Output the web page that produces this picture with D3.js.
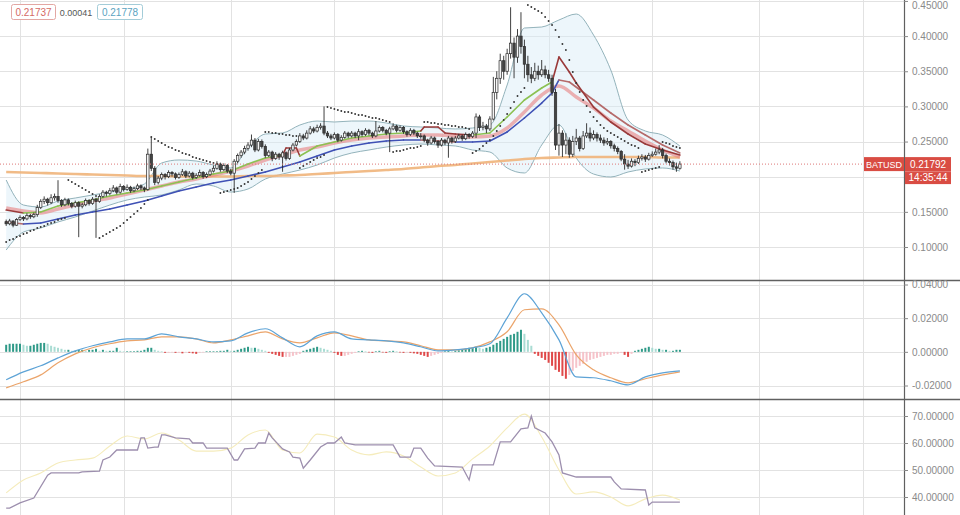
<!DOCTYPE html>
<html><head><meta charset="utf-8">
<script src="https://cdnjs.cloudflare.com/ajax/libs/d3/7.8.5/d3.min.js"></script>
<style>
html,body{margin:0;padding:0;background:#fff;}
svg{display:block;font-family:"Liberation Sans",Arial,sans-serif;}
</style></head><body>
<svg id="chart" width="960" height="515"></svg>
<script>
// ---------- DATA ----------
const symbol = "BATUSD";
const lastPrice = 0.21792;
const countdown = "14:35:44";
const legendVals = ["0.21737", "0.00041", "0.21778"];
const startDate = Date.UTC(2020, 2, 28);

const opens = [
.136,.133,.137,.131,.139,.142,.140,.145,.143,.146,
.156,.165,.168,.163,.170,.172,.166,.160,.167,.162,
.158,.163,.158,.160,.166,.162,.168,.165,.172,.178,
.176,.180,.184,.178,.186,.182,.185,.180,.183,.187,
.184,.182,.232,.212,.192,.198,.203,.200,.206,.204,
.199,.203,.207,.201,.205,.199,.202,.206,.200,.203,
.208,.212,.218,.210,.216,.208,.205,.222,.230,.235,
.240,.245,.252,.238,.250,.243,.230,.235,.226,.232,
.228,.234,.226,.238,.245,.250,.258,.255,.262,.268,
.265,.270,.272,.262,.258,.255,.260,.252,.256,.262,
.258,.262,.258,.264,.260,.266,.262,.258,.265,.270,
.266,.262,.268,.272,.266,.270,.264,.260,.266,.262,
.258,.258,.252,.248,.255,.250,.245,.252,.248,.255,
.250,.255,.258,.254,.260,.257,.262,.285,.270,.272,
.268,.282,.320,.340,.365,.350,.375,.390,.370,.400,
.385,.360,.345,.340,.350,.345,.352,.345,.340,.320,
.245,.262,.245,.252,.232,.250,.255,.240,.258,.262,
.255,.260,.255,.252,.248,.250,.244,.240,.236,.225,
.218,.215,.222,.220,.226,.228,.225,.230,.232,.235,
.238,.230,.222,.220,.214,.212];
const highs = [
.139,.140,.138,.141,.145,.144,.148,.147,.149,.160,
.168,.172,.170,.175,.176,.195,.168,.170,.169,.164,
.166,.165,.163,.169,.168,.171,.170,.175,.181,.180,
.184,.188,.186,.190,.188,.189,.187,.186,.190,.189,
.186,.240,.256,.215,.201,.206,.205,.209,.208,.206,
.206,.211,.209,.208,.207,.205,.210,.208,.206,.211,
.216,.222,.220,.219,.218,.211,.225,.233,.238,.244,
.249,.260,.255,.254,.253,.246,.238,.237,.235,.234,
.237,.236,.241,.248,.253,.262,.261,.266,.272,.271,
.274,.276,.300,.265,.261,.263,.262,.259,.265,.264,
.265,.264,.268,.266,.269,.268,.264,.279,.273,.272,
.268,.271,.276,.274,.273,.272,.266,.269,.268,.264,
.262,.260,.254,.258,.257,.252,.255,.254,.258,.257,
.258,.261,.260,.263,.262,.265,.290,.288,.278,.275,
.286,.342,.350,.375,.372,.382,.441,.398,.410,.434,
.395,.372,.356,.362,.358,.366,.358,.352,.345,.325,
.275,.266,.262,.256,.258,.268,.258,.265,.276,.270,
.266,.263,.260,.256,.255,.252,.247,.243,.238,.232,
.224,.226,.225,.230,.232,.231,.234,.236,.240,.245,
.241,.233,.226,.223,.220,.222];
const lows = [
.130,.131,.128,.130,.137,.137,.138,.140,.141,.143,
.154,.161,.159,.161,.166,.163,.157,.158,.159,.155,
.156,.114,.155,.158,.159,.160,.113,.163,.170,.172,
.174,.178,.175,.176,.179,.180,.177,.178,.181,.181,
.178,.180,.208,.188,.189,.195,.196,.198,.200,.196,
.197,.201,.198,.199,.196,.197,.200,.197,.198,.201,
.206,.210,.207,.208,.205,.202,.177,.219,.227,.232,
.237,.242,.235,.236,.240,.227,.228,.222,.224,.224,
.207,.223,.224,.236,.243,.248,.252,.253,.260,.262,
.263,.267,.259,.255,.252,.253,.249,.250,.254,.255,
.256,.255,.252,.257,.258,.259,.255,.256,.263,.263,
.259,.235,.266,.263,.264,.261,.257,.258,.259,.255,
.254,.249,.244,.246,.247,.241,.243,.245,.227,.247,
.248,.253,.251,.252,.254,.255,.255,.265,.266,.262,
.265,.280,.310,.332,.338,.345,.368,.340,.362,.375,
.340,.335,.333,.336,.338,.342,.340,.335,.315,.238,
.230,.228,.232,.227,.228,.245,.236,.238,.255,.250,
.252,.250,.248,.244,.245,.240,.236,.232,.222,.210,
.211,.213,.215,.218,.223,.221,.223,.228,.230,.232,
.226,.219,.216,.210,.207,.210];
const closes = [
.133,.137,.131,.139,.142,.140,.145,.143,.146,.156,
.165,.168,.163,.170,.172,.166,.160,.167,.162,.158,
.163,.158,.160,.166,.162,.168,.165,.172,.178,.176,
.180,.184,.178,.186,.182,.185,.180,.183,.187,.184,
.182,.232,.212,.192,.198,.203,.200,.206,.204,.199,
.203,.207,.201,.205,.199,.202,.206,.200,.203,.208,
.212,.218,.210,.216,.208,.205,.222,.230,.235,.240,
.245,.252,.238,.250,.243,.230,.235,.226,.232,.228,
.234,.226,.238,.245,.250,.258,.255,.262,.268,.265,
.270,.272,.262,.258,.255,.260,.252,.256,.262,.258,
.262,.258,.264,.260,.266,.262,.258,.265,.270,.266,
.262,.268,.272,.266,.270,.264,.260,.266,.262,.258,
.258,.252,.248,.255,.250,.245,.252,.248,.255,.250,
.255,.258,.254,.260,.257,.262,.285,.270,.272,.268,
.282,.320,.340,.365,.350,.375,.390,.370,.400,.385,
.360,.345,.340,.350,.345,.352,.345,.340,.320,.245,
.262,.245,.252,.232,.250,.255,.240,.258,.262,.255,
.260,.255,.252,.248,.250,.244,.240,.236,.225,.218,
.215,.222,.220,.226,.228,.225,.230,.232,.235,.238,
.230,.222,.220,.214,.212,.21792];

const sar = [
0.1071,0.1100,0.1114,0.1142,0.1156,0.1185,0.1199,0.1228,0.1242,0.1270,0.1284,0.1299,0.1327,0.1341,0.1356,0.1384,0.1398,0.1413,
0.1953,0.1925,0.1896,0.1868,0.1839,0.1811,0.1782,0.1754,0.1725,
0.1128,0.1156,0.1185,0.1213,0.1242,0.1270,0.1299,0.1341,0.1384,0.1427,0.1469,0.1512,0.1555,0.1612,0.1669,
0.2565,0.2536,0.2508,0.2479,0.2451,0.2422,0.2408,0.2380,0.2366,0.2337,0.2323,0.2309,0.2280,0.2266,0.2252,0.2238,0.2223,0.2209,0.2195,0.2181,
0.1768,0.1782,0.1796,0.1811,0.1825,0.1839,0.1868,0.1896,0.1925,0.1967,0.2010,0.2053,0.2095,
0.2636,0.2636,0.2622,0.2622,0.2607,0.2607,0.2593,0.2593,0.2579,0.2579,
0.2124,0.2152,0.2181,0.2209,0.2238,0.2266,0.2280,0.2309,
0.2991,0.2977,0.2962,0.2949,0.2935,0.2920,0.2920,0.2906,0.2892,0.2878,0.2878,0.2863,0.2849,0.2835,0.2835,0.2821,0.2806,0.2792,0.2778,
0.2351,0.2366,0.2366,0.2380,0.2394,0.2408,0.2408,0.2422,0.2437,
0.2778,0.2778,0.2764,0.2764,0.2750,0.2750,0.2735,0.2735,0.2721,0.2721,0.2707,0.2707,0.2693,0.2679,
0.2337,0.2366,0.2394,0.2437,0.2479,0.2522,0.2579,0.2650,0.2721,0.2807,0.2892,0.2977,0.3063,0.3148,0.3205,0.3262,
0.4442,0.4414,0.4386,0.4357,0.4329,0.4272,0.4215,0.4158,0.4087,0.3987,0.3888,0.3802,0.3660,0.3489,0.3333,0.3205,0.3091,0.3006,0.2921,0.2849,0.2792,0.2735,0.2693,0.2650,0.2622,0.2593,0.2565,0.2536,0.2508,0.2479,0.2451,0.2437,0.2408,
0.2067,0.2081,0.2095,0.2110,0.2124,0.2138,
0.2494,0.2479,0.2465,0.2437,0.2422,0.2408];

const macdHist = [
0.0042,0.0048,0.0048,0.0048,0.0048,0.0042,0.0036,0.0036,0.0042,0.0048,
0.0053,0.0053,0.0048,0.0036,0.003,0.0024,0.0018,0.0012,0.0012,0.0006,
0.0006,0.0012,0.0012,0.0006,0.0012,0.0012,0.0018,0.0006,0.0012,0.0006,
0.0006,0.0006,0.0024,0.0006,0.0003,0.0003,0.0003,0.0003,0.0006,0.0006,
0.0012,0.0024,0.0024,0.0012,0.0006,0.0003,-0.0006,-0.0006,-0.0003,-0.0006,
-0.0006,-0.0009,-0.0003,-0.0006,-0.0009,-0.0012,-0.0006,-0.0003,0.0003,0.0003,
0.0003,0.0003,0.0006,0.0006,0.0012,0.0006,0.0006,0.0012,0.0018,0.0024,
0.003,0.0024,0.0024,0.0018,0.0012,0.0006,-0.0006,-0.0012,-0.0018,-0.0024,
-0.003,-0.003,-0.003,-0.0024,-0.0018,-0.0012,0.0006,0.0012,0.0018,0.0024,
0.003,0.0024,0.0018,0.0012,0.0006,-0.0006,-0.0018,-0.0024,-0.0024,-0.0018,
-0.0012,-0.0006,0.0003,0.0006,0.0003,-0.0003,-0.0006,0.0003,0.0006,-0.0003,
-0.0006,0.0003,0.0006,0.0003,-0.0003,-0.0006,-0.0003,-0.0006,-0.0009,-0.0012,
-0.0018,-0.0024,-0.003,-0.0024,-0.0018,-0.0012,-0.0006,0.0003,0.0006,0.0003,
0.0006,0.0009,0.0012,0.0018,0.0024,0.0024,0.003,0.0024,0.0018,0.0024,
0.003,0.0042,0.0053,0.0065,0.0077,0.0089,0.0101,0.0107,0.0119,0.0131,
0.0107,0.0071,0.0036,-0.0012,-0.0024,-0.0036,-0.0048,-0.0065,-0.0083,-0.0107,
-0.0119,-0.0143,-0.016,-0.0137,-0.0113,-0.0095,-0.0083,-0.0071,-0.0059,-0.0048,
-0.0042,-0.0036,-0.003,-0.0024,-0.0018,-0.0018,-0.0012,-0.0012,-0.0006,-0.0018,
-0.003,-0.0012,0.0006,0.0012,0.0018,0.0024,0.003,0.0024,0.0018,0.0018,
0.0012,0.0012,0.0006,0.0006,0.0012,0.0012];

// indicator samples, one every 5 candles
const sampleIdx = d3.range(0, 196, 5);
const maLong = [0.2067,0.2060,0.2053,0.2046,0.2038,0.2031,0.2024,0.2017,0.2010,0.2010,0.2003,0.2003,0.2003,0.2003,0.2010,0.2010,0.2017,0.2024,0.2038,0.2053,0.2067,0.2081,0.2095,0.2110,0.2131,0.2152,0.2166,0.2188,0.2209,0.2230,0.2252,0.2266,0.2273,0.2280,0.2280,0.2280,0.2280,0.2280,0.2273,0.2273];
const bbUpper = [0.1953,0.1597,0.1569,0.1654,0.1697,0.1740,0.1782,0.1825,0.1896,0.2195,0.2238,0.2223,0.2166,0.2124,0.2408,0.2607,0.2622,0.2735,0.2792,0.2778,0.2792,0.2792,0.2764,0.2721,0.2707,0.2693,0.2679,0.2693,0.2735,0.3304,0.4115,0.4129,0.4229,0.4314,0.4016,0.3518,0.2807,0.2650,0.2593,0.2437];
const bbLower = [0.0957,0.1213,0.1270,0.1356,0.1427,0.1512,0.1597,0.1669,0.1711,0.1740,0.1811,0.1896,0.1868,0.1782,0.1825,0.1967,0.2038,0.2095,0.2166,0.2266,0.2337,0.2380,0.2422,0.2451,0.2465,0.2451,0.2437,0.2380,0.2351,0.2124,0.2053,0.2451,0.2735,0.2266,0.2038,0.1996,0.2067,0.2110,0.2124,0.2081];
const maPink = [0.1555,0.1512,0.1484,0.1541,0.1597,0.1654,0.1697,0.1754,0.1811,0.1868,0.1925,0.1967,0.2024,0.2081,0.2152,0.2238,0.2309,0.2380,0.2422,0.2479,0.2522,0.2550,0.2565,0.2579,0.2593,0.2593,0.2579,0.2565,0.2579,0.2693,0.2920,0.3162,0.3290,0.3134,0.2977,0.2792,0.2650,0.2508,0.2380,0.2280];
const macdLine = [-0.0166,-0.0119,-0.0083,-0.0036,0.0006,0.0036,0.0059,0.0077,0.0077,0.0107,0.0089,0.0077,0.0059,0.0065,0.0113,0.0137,0.0083,0.003,0.0095,0.0119,0.0077,0.0071,0.0065,0.0053,0.003,0.0006,0.0012,0.0024,0.0048,0.0202,0.0345,0.0232,0.0071,-0.0149,-0.0154,-0.0172,-0.0196,-0.0149,-0.0125,-0.0113];
const signalLine = [-0.0214,-0.0178,-0.0137,-0.0065,-0.0012,0.0024,0.0048,0.0065,0.0071,0.0089,0.0089,0.0077,0.0053,0.0071,0.0095,0.0119,0.0077,0.0053,0.0083,0.0113,0.0095,0.0071,0.0065,0.0059,0.0036,0.0012,0.0012,0.0024,0.0059,0.0119,0.025,0.0255,0.016,-0.0018,-0.0107,-0.0154,-0.0184,-0.016,-0.0137,-0.0119];
const rsiMa = [41.5,46.3,48.9,52.6,53.7,54.4,58.9,62.6,61.5,63.7,61.1,57.0,57.0,58.1,63.0,64.8,57.4,56.3,63.3,62.2,57.4,55.6,56.7,55.2,51.1,47.8,48.9,54.1,58.9,65.6,70.7,62.2,50.0,41.1,41.9,40.0,36.7,39.3,40.7,38.9];

// fast moving average; trend flag per point (segment ending there): 1 green, -1 maroon
const fastIdx = [0,5,10,15,20,25,30,35,40,45,50,55,60,65,70,75,80,81,84,85,88,90,95,100,105,110,115,120,121,125,127,130,135,140,145,150,155,158,160,163,165,170,175,180,185,190,195];
const fastVal = [0.1526,0.1484,0.1498,0.1583,0.1626,0.1669,0.1725,0.1768,0.1811,0.1868,0.1925,0.1982,0.2038,0.2081,0.2181,0.2266,0.2309,0.2408,0.2408,0.2294,0.2380,0.2437,0.2494,0.2550,0.2579,0.2607,0.2622,0.2650,0.2707,0.2707,0.2622,0.2607,0.2593,0.2622,0.2849,0.3091,0.3262,0.3347,0.3703,0.3489,0.3333,0.2991,0.2778,0.2607,0.2465,0.2380,0.2309];
const fastTrend = [0,-1,1,1,1,1,1,1,1,1,1,1,1,1,1,1,1,-1,-1,-1,1,1,1,1,1,1,1,1,-1,-1,-1,-1,-1,1,1,1,1,1,-1,-1,-1,-1,-1,-1,-1,-1,-1];
// slower moving average (blue rising / red-grey falling)
const slowIdx = [0,5,10,15,20,25,30,35,40,45,50,55,60,65,70,75,80,85,90,95,100,105,110,115,120,125,130,135,140,145,150,155,158,160,163,170,175,180,185,190,195];
const slowVal = [0.1356,0.1327,0.1341,0.1398,0.1455,0.1498,0.1541,0.1597,0.1654,0.1725,0.1797,0.1853,0.1910,0.1953,0.2010,0.2067,0.2138,0.2209,0.2294,0.2380,0.2437,0.2479,0.2508,0.2522,0.2522,0.2508,0.2494,0.2494,0.2508,0.2636,0.2835,0.3048,0.3191,0.3376,0.3347,0.3091,0.2906,0.2735,0.2593,0.2451,0.2337];
// RSI
const rsiIdx = [0,1,4,8,12,13,21,22,27,28,30,32,38,39,40,41,43,44,45,46,49,53,54,57,58,64,66,67,69,72,73,75,76,77,80,82,83,85,86,88,91,93,95,97,98,101,112,114,117,118,120,122,124,132,134,135,141,143,146,149,151,152,153,156,158,160,161,165,175,176,178,185,186,187,195];
const rsiVal = [35.9,35.9,37.8,39.6,48.1,48.9,48.9,49.3,49.6,53.7,54.8,57.4,57.4,61.9,61.9,58.1,58.5,58.5,63.0,63.0,61.9,61.5,60.0,60.0,58.1,58.1,53.7,53.7,57.8,58.1,60.0,60.0,63.7,61.9,57.8,56.7,54.8,54.4,50.7,53.7,58.5,60.0,60.0,62.2,60.0,59.3,59.3,54.8,54.8,58.1,58.1,54.4,51.5,51.1,46.3,51.9,51.9,60.4,60.4,65.2,65.6,70.0,65.6,63.7,60.4,55.6,48.9,47.4,47.4,45.6,43.0,42.6,37.0,38.1,38.1];

const priceTicks = [0.10, 0.15, 0.20, 0.25, 0.30, 0.35, 0.40, 0.45];
const priceLabelTicks = [0.10, 0.15, 0.25, 0.30, 0.35, 0.40, 0.45]; // 0.20 hidden under the price label
const macdTicks = [-0.02, 0.00, 0.02, 0.04];
const rsiTicks = [40, 50, 60, 70];

// ---------- LAYOUT ----------
const W = 960, H = 515, axisX = 904;
const svg = d3.select("#chart");
const x = d3.scaleUtc()
  .domain([new Date(Date.UTC(2020, 3, 1)), new Date(Date.UTC(2020, 11, 1))])
  .range([20, 863]);
const dateOf = i => new Date(startDate + i * 864e5);
const xi = i => x(dateOf(i));
const yP = d3.scaleLinear().domain([0.10, 0.45]).range([247, 0.95]);
const yM = d3.scaleLinear().domain([-0.02, 0.04]).range([385.5, 284.5]);
const yR = d3.scaleLinear().domain([40, 70]).range([497, 416]);

const defs = svg.append("defs");
function clip(id, y0, h) {
  defs.append("clipPath").attr("id", id).append("rect").attr("x", 0).attr("y", y0).attr("width", axisX).attr("height", h);
}
clip("cMain", 0, 280); clip("cMacd", 281, 118); clip("cRsi", 400, 115);

// grid
const grid = svg.append("g");
const months = d3.utcMonths(new Date(Date.UTC(2020, 2, 1)), new Date(Date.UTC(2020, 11, 2)));
grid.selectAll("line.v").data(months).join("line")
  .attr("x1", d => Math.round(x(d)) + 0.5).attr("x2", d => Math.round(x(d)) + 0.5)
  .attr("y1", 0).attr("y2", H).attr("stroke", "#e2e2e2");
function hgrid(ticks, sc) {
  grid.selectAll(null).data(ticks).join("line")
    .attr("x1", 0).attr("x2", axisX).attr("y1", d => Math.round(sc(d)) + 0.5).attr("y2", d => Math.round(sc(d)) + 0.5)
    .attr("stroke", "#e2e2e2");
}
hgrid(priceTicks, yP); hgrid(macdTicks, yM); hgrid(rsiTicks, yR);

// ---------- MAIN PANE ----------
const main = svg.append("g").attr("clip-path", "url(#cMain)");
const sIdx = sampleIdx;
const bbArea = d3.area().curve(d3.curveMonotoneX)
  .x((d, k) => xi(sIdx[k])).y0((d, k) => yP(bbLower[k])).y1((d, k) => yP(bbUpper[k]));
main.append("path").datum(bbUpper).attr("d", bbArea).attr("fill", "#d6ebf7").attr("opacity", 0.45);
const sampleLine = arr => d3.line().curve(d3.curveMonotoneX).x((d, k) => xi(sIdx[k])).y(d => yP(d))(arr);
main.append("path").attr("d", sampleLine(bbUpper)).attr("fill", "none").attr("stroke", "#93b3bb").attr("stroke-width", 1);
main.append("path").attr("d", sampleLine(bbLower)).attr("fill", "none").attr("stroke", "#93b3bb").attr("stroke-width", 1);
main.append("path").attr("d", sampleLine(maLong)).attr("fill", "none").attr("stroke", "#f0b47a").attr("stroke-width", 2.6).attr("opacity", 0.9);
main.append("path").attr("d", sampleLine(maPink)).attr("fill", "none").attr("stroke", "#e88080").attr("stroke-width", 3.5).attr("opacity", 0.6);

function colored(g, idx, vals, sc, colorOf, w) {
  for (let k = 1; k < idx.length; k++) {
    g.append("line")
      .attr("x1", xi(idx[k - 1])).attr("y1", sc(vals[k - 1]))
      .attr("x2", xi(idx[k])).attr("y2", sc(vals[k]))
      .attr("stroke", colorOf(k))
      .attr("stroke-width", w).attr("stroke-linecap", "round");
  }
}
colored(main, slowIdx, slowVal, yP, k => slowVal[k] >= slowVal[k - 1] ? "#3f51b5" : "#b56a6a", 1.6);
colored(main, fastIdx, fastVal, yP, k => fastTrend[k] > 0 ? "#8cc152" : "#9a3a3a", 1.6);

// candles
const candles = d3.range(closes.length);
main.append("g").selectAll("line").data(candles).join("line")
  .attr("x1", i => xi(i)).attr("x2", i => xi(i))
  .attr("y1", i => yP(highs[i])).attr("y2", i => yP(lows[i]))
  .attr("stroke", "#2b2b2b").attr("stroke-width", 0.9);
main.append("g").selectAll("rect").data(candles).join("rect")
  .attr("x", i => xi(i) - 1.2).attr("width", 2.4)
  .attr("y", i => yP(Math.max(opens[i], closes[i])))
  .attr("height", i => Math.max(0.8, Math.abs(yP(opens[i]) - yP(closes[i]))))
  .attr("fill", i => closes[i] >= opens[i] ? "#f4f4f4" : "#444")
  .attr("stroke", "#2b2b2b").attr("stroke-width", 0.7);

// parabolic SAR
main.append("g").selectAll("circle").data(candles.filter(i => sar[i] != null)).join("circle")
  .attr("cx", i => xi(i)).attr("cy", i => yP(sar[i])).attr("r", 0.95).attr("fill", "#333");

// last price line
svg.append("line").attr("x1", 0).attr("x2", axisX).attr("y1", yP(lastPrice)).attr("y2", yP(lastPrice))
  .attr("stroke", "#d77").attr("stroke-dasharray", "1,2").attr("stroke-width", 1);

// ---------- MACD PANE ----------
const mg = svg.append("g").attr("clip-path", "url(#cMacd)");
mg.append("g").selectAll("rect").data(candles).join("rect")
  .attr("x", i => xi(i) - 1).attr("width", 2)
  .attr("y", i => Math.min(yM(0), yM(macdHist[i])))
  .attr("height", i => Math.max(0.6, Math.abs(yM(macdHist[i]) - yM(0))))
  .attr("fill", i => {
    const v = macdHist[i], p = i > 0 ? macdHist[i - 1] : v;
    if (v >= 0) return v >= p ? "#2f9a88" : "#a9dcd3";
    return v < p ? "#e04848" : "#f6c3ca";
  });
const mLine = arr => d3.line().curve(d3.curveMonotoneX).x((d, k) => xi(sIdx[k])).y(d => yM(d))(arr);
mg.append("path").attr("d", mLine(signalLine)).attr("fill", "none").attr("stroke", "#eba46a").attr("stroke-width", 1.2);
mg.append("path").attr("d", mLine(macdLine)).attr("fill", "none").attr("stroke", "#5da3d6").attr("stroke-width", 1.2);

// ---------- RSI PANE ----------
const rg = svg.append("g").attr("clip-path", "url(#cRsi)");
rg.append("path").attr("d", d3.line().curve(d3.curveMonotoneX).x((d, k) => xi(sIdx[k])).y(d => yR(d))(rsiMa))
  .attr("fill", "none").attr("stroke", "#f5ecbc").attr("stroke-width", 1.1);
rg.append("path").attr("d", d3.line().x((d, k) => xi(rsiIdx[k])).y(d => yR(d))(rsiVal))
  .attr("fill", "none").attr("stroke", "#9d8fae").attr("stroke-width", 1.3);

// ---------- SEPARATORS & AXES ----------
svg.append("line").attr("x1", 0).attr("x2", W).attr("y1", 280.5).attr("y2", 280.5).attr("stroke", "#606060").attr("stroke-width", 1.5);
svg.append("line").attr("x1", 0).attr("x2", W).attr("y1", 399.5).attr("y2", 399.5).attr("stroke", "#606060").attr("stroke-width", 1.5);
svg.append("line").attr("x1", axisX + 0.5).attr("x2", axisX + 0.5).attr("y1", 0).attr("y2", H).attr("stroke", "#606060").attr("stroke-width", 1.2);

function axis(sc, ticks) {
  const g = svg.append("g").attr("transform", `translate(${axisX},0)`)
    .call(d3.axisRight(sc).tickValues(ticks).tickSize(4).tickPadding(4).tickFormat(d => d.toFixed(5)));
  g.select(".domain").remove();
  g.selectAll("line").attr("stroke", "#888");
  g.selectAll("text").attr("fill", "#8a8a8a").attr("font-size", 10);
  return g;
}
const pAxis = axis(yP, priceLabelTicks); axis(yM, macdTicks); axis(yR, rsiTicks);
// keep the top label inside the picture
pAxis.selectAll(".tick").filter(d => d === 0.45).select("text").attr("y", 4);

// price label
const ly = yP(lastPrice);
const lab = svg.append("g");
lab.append("rect").attr("x", 864).attr("y", ly - 7).attr("width", 40).attr("height", 14).attr("fill", "#d94c43");
lab.append("text").attr("x", 884).attr("y", ly + 3.5).attr("text-anchor", "middle").attr("fill", "#fff").attr("font-size", 9).text(symbol);
lab.append("rect").attr("x", 905).attr("y", ly - 7).attr("width", 46).attr("height", 27).attr("fill", "#d94c43");
lab.append("line").attr("x1", 905).attr("x2", 951).attr("y1", ly + 7.5).attr("y2", ly + 7.5).attr("stroke", "#e98a84").attr("stroke-width", 0.8);
lab.append("text").attr("x", 928).attr("y", ly + 3.5).attr("text-anchor", "middle").attr("fill", "#fff").attr("font-size", 10).text(lastPrice.toFixed(5));
lab.append("text").attr("x", 928).attr("y", ly + 17).attr("text-anchor", "middle").attr("fill", "#fff").attr("font-size", 10).text(countdown);

// legend (top-left)
const lg = svg.append("g");
lg.append("rect").attr("x", 11.5).attr("y", 4.5).attr("width", 44).attr("height", 15).attr("rx", 2).attr("fill", "#fff").attr("stroke", "#e3a7a3");
lg.append("text").attr("x", 33.5).attr("y", 15.5).attr("text-anchor", "middle").attr("font-size", 10).attr("fill", "#d46a64").text(legendVals[0]);
lg.append("text").attr("x", 76).attr("y", 15.5).attr("text-anchor", "middle").attr("font-size", 9).attr("fill", "#555").text(legendVals[1]);
lg.append("rect").attr("x", 97.5).attr("y", 4.5).attr("width", 45).attr("height", 15).attr("rx", 2).attr("fill", "#fff").attr("stroke", "#a3ccd8");
lg.append("text").attr("x", 120).attr("y", 15.5).attr("text-anchor", "middle").attr("font-size", 10).attr("fill", "#5aa3bf").text(legendVals[2]);
</script>
</body></html>
